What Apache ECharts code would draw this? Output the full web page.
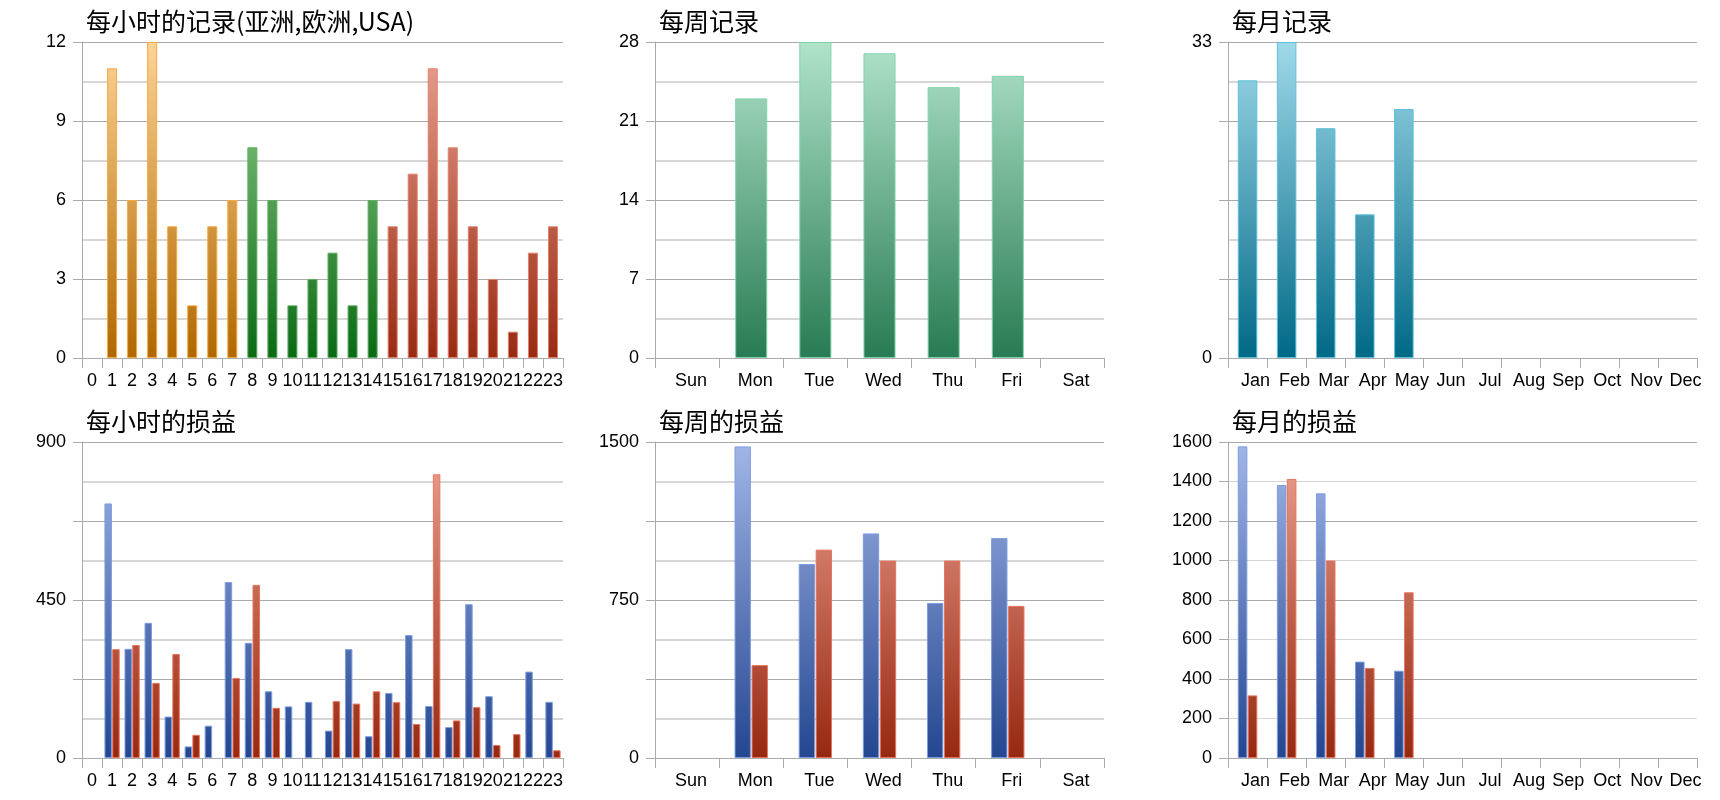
<!DOCTYPE html>
<html>
<head>
<meta charset="utf-8">
<title>记录与损益</title>
<script src="https://cdn.jsdelivr.net/npm/echarts@6/dist/echarts.min.js"></script>
<style>
html,body{margin:0;padding:0;background:#fff;}
#main{width:1720px;height:800px;}
</style>
</head>
<body>
<div id="main"></div>
<script>
// 类目
var hours = ['0','1','2','3','4','5','6','7','8','9','10','11','12','13','14','15','16','17','18','19','20','21','22','23'];
var weekDays = ['Sun','Mon','Tue','Wed','Thu','Fri','Sat'];
var months = ['Jan','Feb','Mar','Apr','May','Jun','Jul','Aug','Sep','Oct','Nov','Dec'];

// 每小时的记录 (亚洲 0-7, 欧洲 8-14, USA 15-23)
var hourAsia   = [0, 11, 6, 12, 5, 2, 5, 6, '-', '-', '-', '-', '-', '-', '-', '-', '-', '-', '-', '-', '-', '-', '-', '-'];
var hourEurope = ['-', '-', '-', '-', '-', '-', '-', '-', 8, 6, 2, 3, 4, 2, 6, '-', '-', '-', '-', '-', '-', '-', '-', '-'];
var hourUsa    = ['-', '-', '-', '-', '-', '-', '-', '-', '-', '-', '-', '-', '-', '-', '-', 5, 7, 11, 8, 5, 3, 1, 4, 5];

// 每周记录 / 每月记录
var weekRecords = [0, 23, 28, 27, 24, 25, 0];
var monthRecords = [29, 33, 24, 15, 26, 0, 0, 0, 0, 0, 0, 0];

// 损益 (蓝, 红)
var hourLossBlue = [0, 725, 311, 385, 118, 33, 92, 501, 328, 190, 147, 160, 78, 310, 62, 185, 350, 148, 88, 438, 176, 0, 246, 160];
var hourLossRed  = [0, 310, 322, 214, 296, 66, 0, 228, 493, 143, 0, 0, 162, 155, 190, 159, 97, 808, 107, 145, 37, 68, 0, 22];
var weekLossBlue = [0, 1479, 921, 1066, 736, 1044, 0];
var weekLossRed  = [0, 441, 989, 937, 937, 722, 0];
var monthLossBlue = [1578, 1382, 1340, 488, 442, 0, 0, 0, 0, 0, 0, 0];
var monthLossRed  = [317, 1413, 1000, 456, 839, 0, 0, 0, 0, 0, 0, 0];

// y轴刻度标签
var hourRecTicks = [0, 3, 6, 9, 12];
var weekRecTicks = [0, 7, 14, 21, 28];
var monthRecTicks = [0, 33];
var hourLossTicks = [0, 450, 900];
var weekLossTicks = [0, 750, 1500];
var monthLossTicks = [0, 200, 400, 600, 800, 1000, 1200, 1400, 1600];

var titles = ['每小时的记录(亚洲,欧洲,USA)', '每周记录', '每月记录', '每小时的损益', '每周的损益', '每月的损益'];

var cols = [{left: 82, width: 481}, {left: 655, width: 449}, {left: 1228, width: 469}];
var rows = [{top: 42, height: 316}, {top: 442, height: 316}];
var labelFont = 'Liberation Sans, Arial, sans-serif';

var myChart = echarts.init(document.getElementById('main'));

// 渐变是按整个绘图区的高度算的
function grad(row, top, bottom) {
    var r = rows[row];
    return new echarts.graphic.LinearGradient(0, r.top, 0, r.top + r.height, [
        {offset: 0, color: top},
        {offset: 1, color: bottom}
    ], true);
}

function catAxis(idx, data, shift) {
    return {
        type: 'category', gridIndex: idx, data: data, boundaryGap: true,
        axisLine: {show: true, lineStyle: {color: '#aaa'}},
        axisTick: {show: true, length: 10, lineStyle: {color: '#aaa'}},
        axisLabel: {interval: 0, color: '#000', fontSize: 18, fontFamily: labelFont, margin: 14, padding: [0, 0, 0, shift]}
    };
}

function valAxis(idx, max, step, ticks, minor, colors) {
    return {
        type: 'value', gridIndex: idx, min: 0, max: max, interval: step,
        axisLine: {show: true, lineStyle: {color: '#aaa'}},
        axisTick: {show: true, length: 9, lineStyle: {color: '#aaa'}},
        axisLabel: {
            color: '#000', fontSize: 18, fontFamily: labelFont, margin: 16,
            formatter: function (v) { return ticks.indexOf(v) >= 0 ? String(v) : ''; }
        },
        splitLine: {show: true, lineStyle: {color: colors || '#aaa', width: 1}},
        minorTick: {show: false, splitNumber: 2},
        minorSplitLine: {show: minor, lineStyle: {color: '#d6d6d6', width: 2}}
    };
}

// 值为0的柱子不画(否则边框会在底部留一条线)
function bar(idx, row, data, top, bottom, border, extra) {
    var s = {
        type: 'bar', xAxisIndex: idx, yAxisIndex: idx,
        data: data.map(function (v) { return v === 0 ? '-' : v; }),
        itemStyle: {color: grad(row, top, bottom), borderColor: border, borderWidth: 1}
    };
    for (var k in extra) s[k] = extra[k];
    return s;
}

var grids = [], titleList = [];
for (var i = 0; i < 6; i++) {
    var r = rows[Math.floor(i / 3)], c = cols[i % 3];
    grids.push({left: c.left, width: c.width, top: r.top, height: r.height, containLabel: false});
    titleList.push({
        text: titles[i], left: c.left - 1, top: r.top - 38,
        textStyle: {fontSize: 25, fontWeight: 'normal', color: '#000', fontFamily: 'Noto Sans CJK SC'}
    });
}

var BLUE = ['#a3b6e8', '#244690', '#7b9de0'];
var RED = ['#eea394', '#962810', '#e8735a'];

var option = {
    animation: false,
    backgroundColor: '#fff',
    title: titleList,
    grid: grids,
    xAxis: [
        catAxis(0, hours, 0), catAxis(1, weekDays, 8), catAxis(2, months, 16),
        catAxis(3, hours, 0), catAxis(4, weekDays, 8), catAxis(5, months, 16)
    ],
    yAxis: [
        valAxis(0, 12, 3, hourRecTicks, true),
        valAxis(1, 28, 7, weekRecTicks, true),
        valAxis(2, 33, 8.25, monthRecTicks, true),
        valAxis(3, 900, 225, hourLossTicks, true),
        valAxis(4, 1500, 375, weekLossTicks, true),
        valAxis(5, 1600, 200, monthLossTicks, false, ['#aaa', '#d6d6d6'])
    ],
    series: [
        bar(0, 0, hourAsia, '#fdd396', '#b06800', '#f7a83e', {stack: 'h', barWidth: '50%'}),
        bar(0, 0, hourEurope, '#9bd296', '#0a6a14', '#5cb05c', {stack: 'h', barWidth: '50%'}),
        bar(0, 0, hourUsa, '#eaa394', '#982a12', '#e28068', {stack: 'h', barWidth: '50%'}),
        bar(1, 0, weekRecords, '#b0e3ca', '#287b53', '#80d4aa', {barWidth: '50%'}),
        bar(2, 0, monthRecords, '#9fd9e9', '#006986', '#5cc1dd', {barWidth: '50%'}),
        bar(3, 1, hourLossBlue, BLUE[0], BLUE[1], BLUE[2], {barGap: '4%', barCategoryGap: '24%'}),
        bar(3, 1, hourLossRed, RED[0], RED[1], RED[2], {barGap: '4%', barCategoryGap: '24%'}),
        bar(4, 1, weekLossBlue, BLUE[0], BLUE[1], BLUE[2], {barGap: '4%', barCategoryGap: '48%'}),
        bar(4, 1, weekLossRed, RED[0], RED[1], RED[2], {barGap: '4%', barCategoryGap: '48%'}),
        bar(5, 1, monthLossBlue, BLUE[0], BLUE[1], BLUE[2], {barGap: '4%', barCategoryGap: '50%'}),
        bar(5, 1, monthLossRed, RED[0], RED[1], RED[2], {barGap: '4%', barCategoryGap: '50%'})
    ]
};

myChart.setOption(option);
</script>
</body>
</html>
